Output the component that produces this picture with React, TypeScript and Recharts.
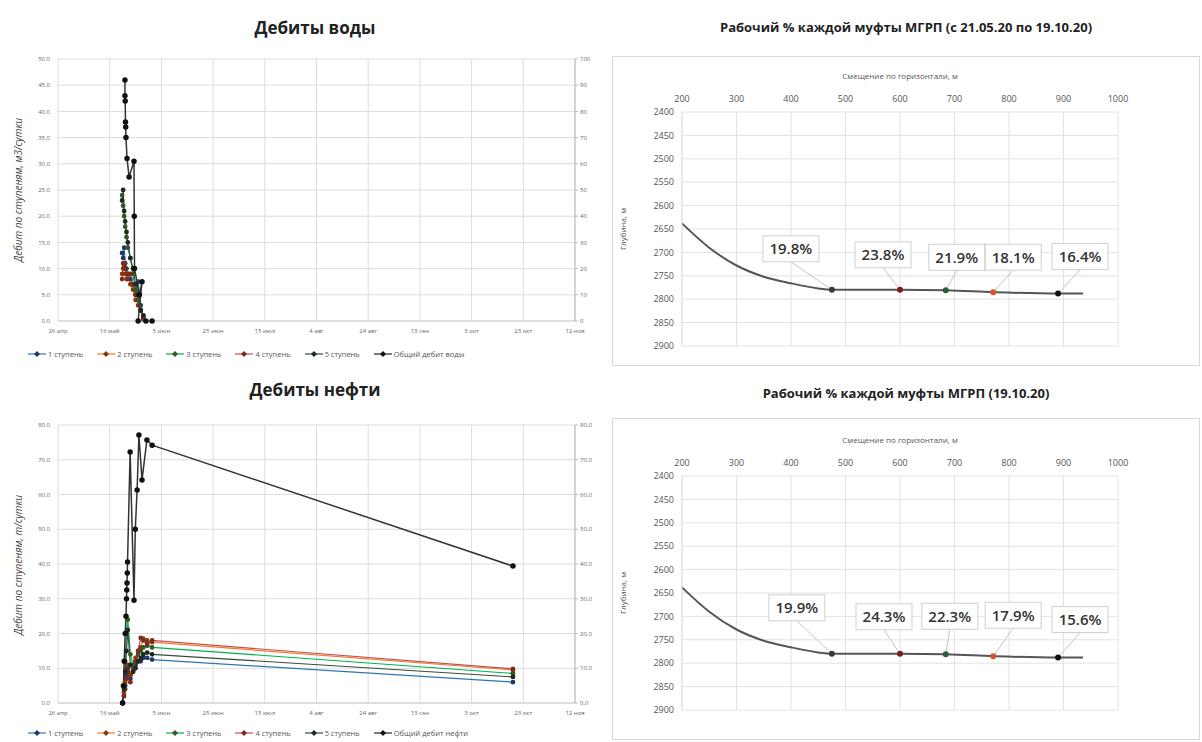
import React from 'react';
import { LineChart, Line, XAxis, YAxis, CartesianGrid, ComposedChart, Scatter } from 'recharts';

// ---- date axis (days since 26 Apr) ----
const DAY_TICKS = [0, 20, 40, 60, 80, 100, 120, 140, 160, 180, 200];
const DAY_TICK_LABELS = ['26 апр', '16 май', '5 июн', '25 июн', '15 июл', '4 авг', '24 авг', '13 сен', '3 окт', '23 окт', '12 ноя'];

const STAGE_NAMES = ['1 ступень', '2 ступень', '3 ступень', '4 ступень', '5 ступень'];

// ---- water rates ----
const WATER_STAGE_DAYS = [24.8, 25.2, 25.6, 26.0, 26.5, 27.0, 28.0, 29.0, 30.0, 31.0, 32.0, 33.0];
const WATER_S1 = [13, 12, 14, 11, 10, 9, 8, 7, 5, 7.5, 3, 1];
const WATER_S2 = [9, 10, 11, 9, 8, 9, 7, 6, 4, 5, 2, 0.5];
const WATER_S3 = [24, 22, 20, 18, 16, 14, 12, 9, 6, 4, 2, 1];
const WATER_S4 = [8, 11, 10.5, 10, 9, 8, 9, 7, 5, 3, 2, 0.5];
const WATER_S5 = [23, 25, 21, 19, 17, 15, 12, 10, 7, 5, 2, 1];
const WATER_TOTAL_DAYS = [25.9, 25.9, 26.0, 26.1, 26.2, 26.3, 26.7, 27.5, 29.4, 29.5, 29.6, 31.5, 32.5, 31.0, 34.0, 36.4];
const WATER_TOTAL = [92, 86, 84, 76, 74, 70, 62, 55, 61, 40, 20, 10, 15, 0, 0, 0];

// ---- oil rates ----
const OIL_STAGE_DAYS = [25.0, 25.5, 26.0, 26.5, 27.0, 28.0, 29.0, 30.0, 31.0, 32.0, 33.0, 34.5, 36.4, 176];
const OIL_S1 = [0, 2, 5, 8, 10, 7, 9, 11, 12, 12, 13, 13, 12.5, 6];
const OIL_S2 = [0, 3, 6, 9, 11, 8, 10, 13, 15, 16, 18.5, 18, 17.5, 9.5];
const OIL_S3 = [0, 5, 12, 20, 24, 14, 11, 12, 14, 15, 16, 16.5, 16, 8.5];
const OIL_S4 = [0, 2, 4, 7, 9, 6, 9, 12, 15, 18.7, 18, 17, 18, 9.8];
const OIL_S5 = [0, 4, 9, 15, 21, 11, 9, 10, 12, 13, 14, 14.5, 14, 7.5];
const OIL_TOTAL_DAYS = [25.0, 25.3, 25.6, 26.0, 26.3, 26.5, 26.6, 26.7, 26.8, 26.9, 27.9, 29.4, 29.9, 30.6, 31.3, 32.5, 34.4, 36.4, 176];
const OIL_TOTAL = [0, 5, 12, 20, 25, 30, 32.5, 34.5, 37.4, 40.6, 72.2, 29.6, 50, 61.3, 77.1, 64.2, 75.7, 74.2, 39.4];

// ---- well trajectory / MGRP ports ----
const X_TICKS = [200, 300, 400, 500, 600, 700, 800, 900, 1000];
const DEPTH_TICKS = [2400, 2450, 2500, 2550, 2600, 2650, 2700, 2750, 2800, 2850, 2900];
const TRAJ_X = [200, 250, 300, 350, 400, 450, 475, 600, 684, 771, 890, 936];
const TRAJ_Y = [2638, 2690, 2728, 2752, 2766, 2777, 2780, 2780, 2781, 2785, 2788, 2788];
const PORT_X = [475, 600, 684, 771, 890];
const PORT_Y = [2780, 2780, 2781, 2785, 2788];
const PCT_PERIOD = [19.8, 23.8, 21.9, 18.1, 16.4];
const PCT_LAST = [19.9, 24.3, 22.3, 17.9, 15.6];

// label box offsets from the port (px)
const PERIOD_DX = [-41, -17, 11, 20, 22];
const PERIOD_DY = [-41, -35, -33, -35, -37];
const LAST_DX = [-35, -16, 4, 20, 22];
const LAST_DY = [-46, -37, -38, -41, -38];

const STAGE_COLORS = ['#2e75b6', '#ed7d31', '#00b050', '#c0504d', '#3a4a3a'];
const STAGE_DOTS = ['#1f3864', '#843c0c', '#375623', '#7f2a1e', '#1e2a1e'];
const PORT_COLORS = ['#3a3a3a', '#7a1f1f', '#2e5a3e', '#d9502a', '#111111'];
const FONT = '"Open Sans", "Liberation Sans", sans-serif';

const toPts = (days: number[], vals: number[]) => days.map((d, i) => ({ d, v: vals[i] }));

function Legend({ left, top, totalName }: { left: number; top: number; totalName: string }) {
  const names = [...STAGE_NAMES, totalName];
  const colors = [...STAGE_COLORS, '#262626'];
  return (
    <div style={{ position: 'absolute', left, top, display: 'flex', fontSize: 7.5, color: '#555', fontFamily: FONT }}>
      {names.map((n, i) => (
        <div key={n} style={{ display: 'flex', alignItems: 'center', marginRight: 14 }}>
          <svg width={18} height={8}>
            <line x1={0} y1={4} x2={18} y2={4} stroke={colors[i]} strokeWidth={1.2} />
            <path d="M9 1 L12 4 L9 7 L6 4 Z" fill={i < 5 ? STAGE_DOTS[i] : '#111'} />
          </svg>
          <span style={{ marginLeft: 2 }}>{n}</span>
        </div>
      ))}
    </div>
  );
}

type RateProps = {
  top: number;
  height: number;
  marginTop: number;
  stageDays: number[];
  stages: number[][];
  totalDays: number[];
  total: number[];
  leftTicks: number[];
  rightTicks: number[];
  rightFmt: (v: number) => string;
};

function RateChart(p: RateProps) {
  const rightMax = p.rightTicks[p.rightTicks.length - 1];
  const leftMax = p.leftTicks[p.leftTicks.length - 1];
  const tick = { fontSize: 6, fill: '#666', fontFamily: FONT };
  return (
    <div style={{ position: 'absolute', left: 0, top: p.top }}>
      <LineChart width={610} height={p.height} margin={{ top: p.marginTop, right: 5, bottom: 0, left: 0 }}>
        <CartesianGrid stroke="#dcdcdc" yAxisId="left" />
        <XAxis
          type="number"
          dataKey="d"
          domain={[0, 200]}
          ticks={DAY_TICKS}
          tickFormatter={(v: number) => DAY_TICK_LABELS[DAY_TICKS.indexOf(v)] ?? ''}
          tick={tick}
          tickLine={false}
          axisLine={{ stroke: '#cfcfcf' }}
          height={20}
          interval={0}
        />
        <YAxis
          yAxisId="left"
          width={58}
          domain={[0, leftMax]}
          ticks={p.leftTicks}
          tickFormatter={(v: number) => v.toFixed(1)}
          tick={tick}
          tickLine={false}
          axisLine={false}
          interval={0}
        />
        <YAxis
          yAxisId="right"
          orientation="right"
          width={30}
          domain={[0, rightMax]}
          ticks={p.rightTicks}
          tickFormatter={p.rightFmt}
          tick={tick}
          tickLine={{ stroke: '#bbb' }}
          tickSize={3}
          axisLine={{ stroke: '#bbb' }}
          interval={0}
        />
        {p.stages.map((s, i) => (
          <Line
            key={STAGE_NAMES[i]}
            yAxisId="left"
            data={toPts(p.stageDays, s)}
            dataKey="v"
            type="linear"
            stroke={STAGE_COLORS[i]}
            strokeWidth={1.2}
            dot={{ r: 1.8, fill: STAGE_DOTS[i], stroke: STAGE_DOTS[i] }}
            isAnimationActive={false}
          />
        ))}
        <Line
          yAxisId="right"
          data={toPts(p.totalDays, p.total)}
          dataKey="v"
          type="linear"
          stroke="#333"
          strokeWidth={1.5}
          dot={{ r: 2, fill: '#111', stroke: '#111' }}
          isAnimationActive={false}
        />
      </LineChart>
    </div>
  );
}

function makePortShape(pct: number[], dx: number[], dy: number[]) {
  return (props: any) => {
    const { cx, cy, payload } = props;
    const i = PORT_X.indexOf(payload.x);
    const bx = cx + dx[i];
    const by = cy + dy[i];
    const w = 56;
    const h = 26;
    return (
      <g>
        <line x1={bx} y1={by + h / 2} x2={cx} y2={cy} stroke="#c4c4c4" strokeWidth={1} />
        <rect x={bx - w / 2} y={by - h / 2} width={w} height={h} fill="#fff" stroke="#cfcfcf" />
        <text x={bx} y={by + 5.5} textAnchor="middle" fontSize={15} fontWeight={600} fill="#333" fontFamily={FONT}>
          {pct[i].toFixed(1)}%
        </text>
        <circle cx={cx} cy={cy} r={3} fill={PORT_COLORS[i]} />
      </g>
    );
  };
}

function WellChart({ top, height, marginTop, marginBottom, pct, dx, dy }: {
  top: number; height: number; marginTop: number; marginBottom: number; pct: number[]; dx: number[]; dy: number[];
}) {
  const traj = TRAJ_X.map((x, i) => ({ x, y: TRAJ_Y[i] }));
  const ports = PORT_X.map((x, i) => ({ x, y: PORT_Y[i] }));
  const tick = { fontSize: 9, fill: '#555', fontFamily: FONT };
  const plotTop = top + marginTop + 25;
  const plotBottom = top + height - marginBottom;
  return (
    <>
      <div style={{ position: 'absolute', left: 612, top, width: 588, height, border: '1px solid #d9d9d9', boxSizing: 'border-box' }} />
      <div style={{ position: 'absolute', left: 682, width: 436, top: plotTop - 42, textAlign: 'center', fontSize: 8, color: '#555', fontFamily: FONT }}>
        Смещение по горизонтали, м
      </div>
      <div style={{
        position: 'absolute', left: 622, top: (plotTop + plotBottom) / 2, fontSize: 8, color: '#555', fontFamily: FONT,
        transform: 'translate(-50%, -50%) rotate(-90deg)', whiteSpace: 'nowrap'
      }}>
        Глубина, м
      </div>
      <div style={{ position: 'absolute', left: 612, top }}>
        <ComposedChart width={588} height={height} margin={{ top: marginTop, right: 82, bottom: marginBottom, left: 30 }}>
          <CartesianGrid stroke="#e2e2e2" />
          <XAxis
            type="number"
            dataKey="x"
            orientation="top"
            domain={[200, 1000]}
            ticks={X_TICKS}
            tick={tick}
            tickLine={false}
            axisLine={false}
            tickMargin={4}
            height={25}
            interval={0}
          />
          <YAxis
            type="number"
            dataKey="y"
            reversed
            domain={[2400, 2900]}
            ticks={DEPTH_TICKS}
            tick={tick}
            tickLine={false}
            axisLine={{ stroke: '#e2e2e2' }}
            width={40}
            interval={0}
          />
          <Line data={traj} dataKey="y" type="monotone" stroke="#555" strokeWidth={2} dot={false} isAnimationActive={false} />
          <Scatter data={ports} dataKey="y" shape={makePortShape(pct, dx, dy)} isAnimationActive={false} />
        </ComposedChart>
      </div>
    </>
  );
}

export default function App() {
  const titleBig = { position: 'absolute' as const, left: 0, width: 630, textAlign: 'center' as const, fontSize: 17, fontWeight: 700, color: '#222', fontFamily: FONT };
  const titleSmall = { position: 'absolute' as const, left: 612, width: 588, textAlign: 'center' as const, fontSize: 13, fontWeight: 700, color: '#222', fontFamily: FONT };
  const axisTitle = (top: number, text: string) => (
    <div style={{
      position: 'absolute', left: 18, top, fontSize: 10, color: '#444', fontFamily: FONT, fontStyle: 'italic',
      transform: 'translate(-50%, -50%) rotate(-90deg)', whiteSpace: 'nowrap'
    }}>{text}</div>
  );
  return (
    <div style={{ position: 'absolute', left: 0, top: 0, width: 1202, height: 742, background: '#fff', overflow: 'hidden' }}>
      <div style={{ ...titleBig, top: 16 }}>Дебиты воды</div>
      <div style={{ ...titleBig, top: 378 }}>Дебиты нефти</div>
      <div style={{ ...titleSmall, top: 18 }}>Рабочий % каждой муфты МГРП (с 21.05.20 по 19.10.20)</div>
      <div style={{ ...titleSmall, top: 384 }}>Рабочий % каждой муфты МГРП (19.10.20)</div>

      {axisTitle(190, 'Дебит по ступеням, м3/сутки')}
      {axisTitle(565, 'Дебит по ступеням, т/сутки')}

      <RateChart
        top={40}
        height={301}
        marginTop={19}
        stageDays={WATER_STAGE_DAYS}
        stages={[WATER_S1, WATER_S2, WATER_S3, WATER_S4, WATER_S5]}
        totalDays={WATER_TOTAL_DAYS}
        total={WATER_TOTAL}
        leftTicks={[0, 5, 10, 15, 20, 25, 30, 35, 40, 45, 50]}
        rightTicks={[0, 10, 20, 30, 40, 50, 60, 70, 80, 90, 100]}
        rightFmt={(v) => String(v)}
      />
      <Legend left={28} top={349} totalName="Общий дебит воды" />

      <RateChart
        top={400}
        height={323}
        marginTop={25}
        stageDays={OIL_STAGE_DAYS}
        stages={[OIL_S1, OIL_S2, OIL_S3, OIL_S4, OIL_S5]}
        totalDays={OIL_TOTAL_DAYS}
        total={OIL_TOTAL}
        leftTicks={[0, 10, 20, 30, 40, 50, 60, 70, 80]}
        rightTicks={[0, 10, 20, 30, 40, 50, 60, 70, 80]}
        rightFmt={(v) => v.toFixed(1)}
      />
      <Legend left={28} top={728} totalName="Общий дебит нефти" />

      <WellChart top={56} height={310} marginTop={31} marginBottom={20} pct={PCT_PERIOD} dx={PERIOD_DX} dy={PERIOD_DY} />
      <WellChart top={418} height={322} marginTop={33} marginBottom={30} pct={PCT_LAST} dx={LAST_DX} dy={LAST_DY} />
    </div>
  );
}
